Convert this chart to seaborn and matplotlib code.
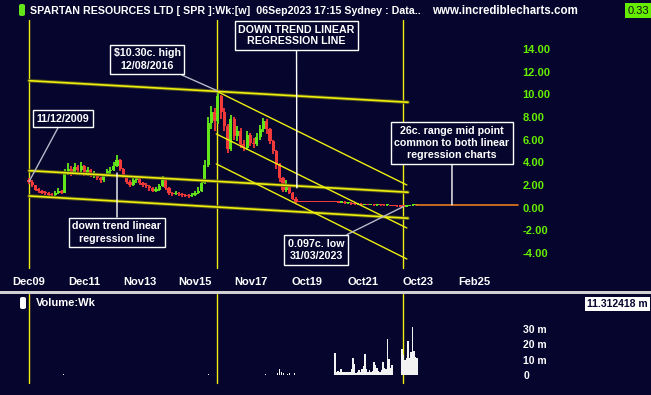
import numpy as np
import pandas as pd
import matplotlib
matplotlib.use("Agg")
import matplotlib.pyplot as plt
import seaborn as sns
from matplotlib.patches import Rectangle, FancyBboxPatch

# ---------------- data ----------------
price_start = 2009.94          # decimal year of first candle (11/12/2009)
price_step = 0.11546           # ~6 weeks per candle
first_open = 2.4
closes = [2.3, 2.0, 1.6, 1.5, 1.3, 1.3, 1.1, 1.1, 1.3, 1.5,
          1.3, 3.2, 3.4, 3.1, 3.6, 3.3, 3.7, 3.0, 3.3, 2.9,
          3.0, 2.6, 2.4, 2.8, 3.2, 3.3, 3.7, 4.2, 3.4, 2.8,
          2.3, 2.0, 2.4, 2.6, 2.2, 2.0, 1.9, 1.7, 1.5, 1.6,
          1.9, 2.6, 1.7, 1.3, 1.2, 1.3, 1.2, 1.1, 1.0, 1.0,
          1.1, 1.3, 1.5, 2.2, 3.8, 7.5, 8.4, 7.6, 9.8, 8.4,
          7.2, 5.2, 7.8, 6.3, 6.8, 5.6, 5.3, 6.4, 5.7, 5.6,
          6.2, 6.9, 7.6, 6.9, 5.9, 5.0, 3.8, 2.6, 1.6, 1.9,
          1.3, 0.8, 0.5, 0.5, 0.5, 0.5, 0.5, 0.5, 0.5, 0.5,
          0.5, 0.5, 0.5, 0.5, 0.5, 0.45, 0.5, 0.4, 0.45, 0.3,
          0.3, 0.35, 0.25, 0.3, 0.25, 0.3, 0.2, 0.25, 0.2, 0.2,
          0.25, 0.15, 0.15, 0.12, 0.1, 0.1, 0.15, 0.2, 0.25, 0.33]
lows = [2.1, 1.8, 1.5, 1.3, 1.2, 1.1, 1.0, 0.95, 1.0, 1.2,
        1.2, 1.3, 2.9, 2.8, 3.0, 2.9, 3.1, 2.8, 2.8, 2.7,
        2.6, 2.4, 2.2, 2.3, 2.7, 3.0, 3.2, 3.6, 3.2, 2.6,
        2.1, 1.8, 1.9, 2.2, 2.0, 1.8, 1.7, 1.5, 1.4, 1.4,
        1.5, 1.8, 1.6, 1.1, 1.0, 1.1, 1.0, 0.9, 0.9, 0.85,
        0.9, 1.0, 1.2, 1.4, 2.1, 3.6, 6.9, 6.8, 7.4, 7.8,
        6.8, 4.8, 5.0, 6.0, 5.9, 5.3, 5.0, 5.1, 5.4, 5.3,
        5.4, 6.0, 6.7, 6.5, 5.6, 4.7, 3.4, 2.3, 1.4, 1.4,
        1.2, 0.7, 0.45, 0.5, 0.5, 0.5, 0.5, 0.5, 0.5, 0.5,
        0.5, 0.5, 0.5, 0.5, 0.5, 0.4, 0.4, 0.35, 0.35, 0.28,
        0.25, 0.28, 0.22, 0.22, 0.2, 0.22, 0.18, 0.18, 0.17, 0.16,
        0.18, 0.13, 0.12, 0.1, 0.097, 0.097, 0.1, 0.14, 0.18, 0.24]
highs = [2.6, 2.4, 2.0, 1.7, 1.6, 1.5, 1.4, 1.3, 1.5, 1.7,
         1.6, 3.4, 3.9, 3.7, 3.9, 3.8, 4.0, 3.8, 3.6, 3.4,
         3.2, 3.1, 2.7, 3.0, 3.4, 3.6, 4.0, 4.6, 4.3, 3.5,
         2.9, 2.4, 2.6, 2.8, 2.7, 2.3, 2.2, 2.0, 1.8, 1.8,
         2.1, 2.8, 2.6, 1.8, 1.4, 1.5, 1.4, 1.3, 1.2, 1.2,
         1.3, 1.5, 1.8, 2.5, 4.2, 8.0, 9.0, 8.8, 10.3, 9.9,
         8.8, 7.4, 8.2, 8.0, 7.2, 7.0, 6.0, 6.8, 6.6, 6.1,
         6.6, 7.3, 7.9, 7.8, 7.0, 6.0, 5.1, 3.9, 2.7, 2.4,
         2.0, 1.4, 0.9, 0.5, 0.5, 0.5, 0.5, 0.5, 0.5, 0.5,
         0.5, 0.5, 0.5, 0.5, 0.5, 0.6, 0.6, 0.55, 0.5, 0.5,
         0.38, 0.4, 0.38, 0.35, 0.32, 0.35, 0.32, 0.28, 0.27, 0.24,
         0.3, 0.27, 0.18, 0.17, 0.14, 0.13, 0.17, 0.23, 0.28, 0.36]

# long-term regression channel (2009 -> 2023)
reg_long_x = [2009.94, 2023.38]
reg_long_upper = [11.19, 9.29]
reg_long_mid = [3.26, 1.36]
reg_long_lower = [1.03, -0.93]
# short-term regression channel (2016 -> 2023)
reg_short_x = [2016.58, 2023.34]
reg_short_upper = [10.28, 2.00]
reg_short_mid = [6.50, -1.79]
reg_short_lower = [3.86, -4.52]

mid_point_x = [2023.68, 2027.28]
mid_point_y = [0.26, 0.26]

marker_years = [2009.94, 2016.62, 2023.22]

x_tick_pos = [2009.92, 2011.89, 2013.87, 2015.84, 2017.82, 2019.80, 2021.77, 2023.75, 2025.72]
x_tick_labels = ['Dec09', 'Dec11', 'Nov13', 'Nov15', 'Nov17', 'Oct19', 'Oct21', 'Oct23', 'Feb25']
price_ticks = [-4, -2, 0, 2, 4, 6, 8, 10, 12, 14]

# volume (millions)
vol_early_years = [2011.15, 2012.67, 2015.47, 2016.29, 2017.17, 2017.46, 2018.06, 2018.20,
                   2018.34, 2018.77, 2018.84, 2018.91, 2018.98, 2019.09, 2019.19, 2019.37]
vol_early = [0.8, 0.6, 0.6, 1.2, 0.6, 0.6, 0.6, 0.6, 0.8, 1.5, 4.0, 2.0, 1.5, 1.2, 1.5, 1.5]
vol_a_start, vol_step = 2020.79, 0.0532
vol_a = [14.8, 2.5, 3.0, 2.5, 4.3, 2.0, 2.5, 2.0, 2.0, 2.0,
         2.5, 4.5, 11.0, 7.5, 1.5, 2.0, 3.5, 2.0, 4.0, 6.0,
         13.8, 4.5, 2.0, 3.5, 2.5, 3.0, 8.4, 7.0, 5.0, 3.0,
         2.5, 3.5, 8.5, 5.0, 4.0, 23.7, 10.5, 5.0, 6.5]
vol_b_start = 2023.17
vol_b = [17, 13, 10, 11, 22, 11, 15, 31, 16, 12, 11]
vol_ticks = [0, 10, 20, 30]
vol_tick_labels = ['0', '10 m', '20 m', '30 m']

# ---------------- style ----------------
BG = '#05052e'
GREEN = '#63e619'
RED = '#f23a3a'
YEL = '#eeee10'
sns.set_theme(style='dark', rc={'axes.facecolor': BG, 'figure.facecolor': BG,
                                'axes.edgecolor': BG})
plt.rcParams['font.family'] = ['Liberation Sans', 'DejaVu Sans']

W, H = 651, 395
fig = plt.figure(figsize=(W / 100, H / 100), dpi=100)


def fx(x):
    return x / W


def fy(y):
    return 1 - y / H


ax = fig.add_axes([0, fy(291), 1, 291 / H])
vax = fig.add_axes([0, 0, 1, (395 - 294) / H])
for a in (ax, vax):
    a.set_facecolor(BG)
    a.grid(False)
    for s in a.spines.values():
        s.set_visible(False)
    a.set_xlim(2008.91, 2032.0)

ax.set_ylim(-7.34, 18.30)
vax.set_ylim(-12.6, 52.6)

# ---- candles ----
n = len(closes)
years = [price_start + i * price_step for i in range(n)]
opens = [first_open] + closes[:-1]
df = pd.DataFrame({'year': years, 'open': opens, 'close': closes,
                   'low': lows, 'high': highs})
df['bottom'] = df[['open', 'close']].min(axis=1)
df['height'] = (df['close'] - df['open']).abs().clip(lower=0.11)
df['color'] = np.where(df['close'] > df['open'], GREEN, RED)
ax.vlines(df['year'], df['low'], df['high'], colors=df['color'], lw=1.3, zorder=3)
ax.bar(df['year'], df['height'], bottom=df['bottom'], width=0.112,
       color=df['color'], linewidth=0, zorder=3)

# ---- regression lines ----
for ys in (reg_long_upper, reg_long_mid, reg_long_lower):
    sns.lineplot(x=reg_long_x, y=ys, ax=ax, color='#55551a', lw=2.6, alpha=0.9, zorder=4)
    sns.lineplot(x=reg_long_x, y=ys, ax=ax, color=YEL, lw=1.2, zorder=5)
for ys in (reg_short_upper, reg_short_mid, reg_short_lower):
    sns.lineplot(x=reg_short_x, y=ys, ax=ax, color=YEL, lw=1.0, zorder=5)
sns.lineplot(x=mid_point_x, y=mid_point_y, ax=ax, color='#e8791e', lw=1.2, zorder=4)

for yr in marker_years:
    ax.axvline(yr, ymin=0.079, ymax=0.931, color=YEL, lw=1, zorder=2)
    vax.axvline(yr, ymin=0.119, ymax=1.0, color=YEL, lw=1, zorder=2)

# ---- ticks ----
ax.set_xticks(x_tick_pos)
ax.set_xticklabels(x_tick_labels)
ax.tick_params(axis='x', length=0, pad=-10, labelcolor='white', labelsize=8)
for t in ax.get_xticklabels():
    t.set_fontweight('bold')
ax.yaxis.tick_right()
ax.set_yticks(price_ticks)
ax.set_yticklabels([f'{v:.2f}' for v in price_ticks])
ax.tick_params(axis='y', length=0, pad=-92.5, labelcolor='#66ee00', labelsize=8)
for t in ax.get_yticklabels():
    t.set_fontweight('bold')
    t.set_horizontalalignment('left')

# ---- volume ----
vax.bar(vol_early_years, vol_early, width=0.035, color='#f2f2f2', linewidth=0, zorder=3)
vax.bar([vol_a_start + i * vol_step for i in range(len(vol_a))], vol_a,
        width=vol_step, color='#f2f2f2', linewidth=0, zorder=3)
vax.bar([vol_b_start + i * vol_step for i in range(len(vol_b))], vol_b,
        width=vol_step, color='#f2f2f2', linewidth=0, zorder=3)
vax.set_xticks([])
vax.yaxis.tick_right()
vax.set_yticks(vol_ticks)
vax.set_yticklabels(vol_tick_labels)
vax.tick_params(axis='y', length=0, pad=-92, labelcolor='white', labelsize=7.5)
for t in vax.get_yticklabels():
    t.set_fontweight('bold')
    t.set_horizontalalignment('left')

# ---- annotations ----
box = dict(boxstyle='square,pad=0.35', fc=BG, ec='white', lw=1)


def note(text, center, target, color='white', ls=1.3):
    ax.annotate(text, xy=target, xycoords='data',
                xytext=(fx(center[0]), fy(center[1])), textcoords='figure fraction',
                ha='center', va='center', multialignment='center', color='white',
                fontsize=7.7, fontweight='bold', linespacing=ls, bbox=box, zorder=8,
                arrowprops=dict(arrowstyle='-', color=color, lw=1, shrinkA=0, shrinkB=0))


note('DOWN TREND LINEAR\nREGRESSION LINE', (296.5, 35.5), (2019.44, 1.74), ls=1.12)
note('$10.30c. high\n12/08/2016', (147, 59.5), (2016.62, 10.3), color='#b8b8c8')
note('11/12/2009', (63, 118.5), (2009.94, 2.3), color='#b8b8c8')
note('down trend linear\nregression line', (117, 232.5), (2013.06, 3.06))
note('0.097c. low\n31/03/2023', (316, 250), (2023.22, 0.1), color='#b8b8c8')
note('26c. range mid point\ncommon to both linear\nregression charts', (452, 143),
     (2024.94, 0.26))

# ---- header / labels ----
fig.add_artist(Rectangle((0, fy(294)), 1, 3.5 / H, transform=fig.transFigure,
                         fc='#d0d0d0', ec='none'))
fig.add_artist(FancyBboxPatch((fx(19), fy(16)), 6 / W, 12 / H, transform=fig.transFigure,
                              boxstyle='round,pad=0,rounding_size=0.004', fc=GREEN, ec='none'))
fig.text(fx(30), fy(10.5), 'SPARTAN RESOURCES LTD [ SPR ]:Wk:[w]  06Sep2023 17:15 Sydney : Data..',
         color='white', fontsize=7.7, fontweight='bold', ha='left', va='center')
fig.text(fx(432), fy(10.5), 'www.incrediblecharts.com', color='white', fontsize=8.3,
         fontweight='bold', ha='left', va='center')
fig.text(fx(649), fy(10.5), '0.33', color='#111111', fontsize=8, ha='right', va='center',
         bbox=dict(boxstyle='square,pad=0.2', fc='#66ee00', ec='none'))
fig.add_artist(FancyBboxPatch((fx(20), fy(309)), 6 / W, 12 / H, transform=fig.transFigure,
                              boxstyle='round,pad=0,rounding_size=0.004', fc='white', ec='none'))
fig.text(fx(36), fy(303), 'Volume:Wk', color='white', fontsize=8, fontweight='bold',
         ha='left', va='center', bbox=dict(boxstyle='square,pad=0.1', fc=BG, ec='none'))
fig.text(fx(648), fy(304), '11.312418 m', color='#05052e', fontsize=7.5, fontweight='bold',
         ha='right', va='center', bbox=dict(boxstyle='square,pad=0.2', fc='white', ec='none'))

fig.savefig('out.png', dpi=100, facecolor=BG)
